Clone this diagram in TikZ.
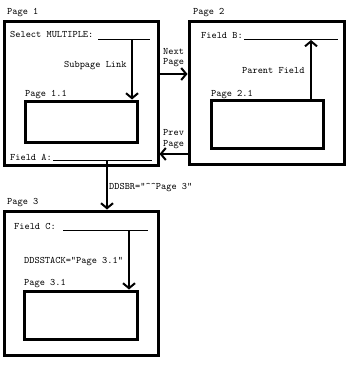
\documentclass[tikz,border=0pt]{standalone}
\usetikzlibrary{arrows.meta}
\begin{document}
\begin{tikzpicture}[x=1pt,y=-1pt,
  lbl/.style={anchor=west, inner sep=0pt, font=\ttfamily\fontsize{9.9}{11}\selectfont,
    text height=1.5ex, text depth=0.25ex},
  pagebox/.style={draw, line width=3pt, inner sep=0pt},
  fieldline/.style={line width=0.8pt},
  link/.style={line width=2pt, -{Straight Barb[length=5pt,width=12pt]}}]
\useasboundingbox (0,0) rectangle (350,372);

% ---- Page 1 ----
\node[pagebox, minimum width=154pt, minimum height=144pt] (p1) at (81,93) {};
\node[lbl] (p1lbl) at (7,12) {Page 1};
\node[lbl] (selmul) at (10,35) {Select MULTIPLE:};
\coordinate (selA) at (98,39);
\coordinate (selB) at (150,39);
\draw[fieldline] (selA) -- (selB);
\coordinate (sublink) at (132,39);
\node[lbl] (subtxt) at (64,65) {Subpage Link};
\node[pagebox, minimum width=112pt, minimum height=41pt] (p11) at (81,121.5) {};
\node[lbl] (p11lbl) at (25,94) {Page 1.1};
\node[lbl] (fielda) at (10,158) {Field A:};
\coordinate (faA) at (53,160);
\coordinate (faB) at (152,160);
\draw[fieldline] (faA) -- (faB);
\coordinate (fadown) at (107,160);

% ---- Page 2 ----
\node[pagebox, minimum width=155pt, minimum height=143pt] (p2) at (266.5,92.5) {};
\node[lbl] (p2lbl) at (193,12) {Page 2};
\node[lbl] (fieldb) at (201,36) {Field B:};
\coordinate (fbA) at (244,39);
\coordinate (fbB) at (338,39);
\draw[fieldline] (fbA) -- (fbB);
\coordinate (parentend) at (311,40);
\node[lbl] (partxt) at (242,71) {Parent Field};
\node[pagebox, minimum width=112pt, minimum height=48pt] (p21) at (267,124) {};
\node[lbl] (p21lbl) at (211,94) {Page 2.1};

% ---- Page 3 ----
\node[pagebox, minimum width=154pt, minimum height=144pt] (p3) at (81,283) {};
\node[lbl] (p3lbl) at (7,202) {Page 3};
\node[lbl] (fieldc) at (14,227) {Field C:};
\coordinate (fcA) at (63,230);
\coordinate (fcB) at (148,230);
\draw[fieldline] (fcA) -- (fcB);
\coordinate (fcdown) at (129,230);
\node[lbl] (stacktxt) at (24,261) {DDSSTACK="Page 3.1”};
\node[pagebox, minimum width=113pt, minimum height=48pt] (p31) at (80.5,315) {};
\node[lbl] (p31lbl) at (24,283) {Page 3.1};

% ---- links between pages ----
\coordinate (nexty) at (0,74);
\coordinate (prevy) at (0,154);
\node[lbl] (nxt1) at (163,52) {Next};
\node[lbl] (nxt2) at (163,62) {Page};
\node[lbl] (prv1) at (163,133) {Prev};
\node[lbl] (prv2) at (163,144) {Page};
\node[lbl] (ddsbr) at (109,187) {DDSBR="\textasciicircum\textasciicircum Page 3”};

\draw[link] (sublink) -- (sublink |- p11.north);
\draw[link] (parentend |- p21.north) -- (parentend);
\draw[link] (fadown) -- (fadown |- p3.north);
\draw[link] (fcdown) -- (fcdown |- p31.north);
\draw[link] (p1.east |- nexty) -- (p2.west |- nexty);
\draw[link] (p2.west |- prevy) -- (p1.east |- prevy);
\end{tikzpicture}
\end{document}
